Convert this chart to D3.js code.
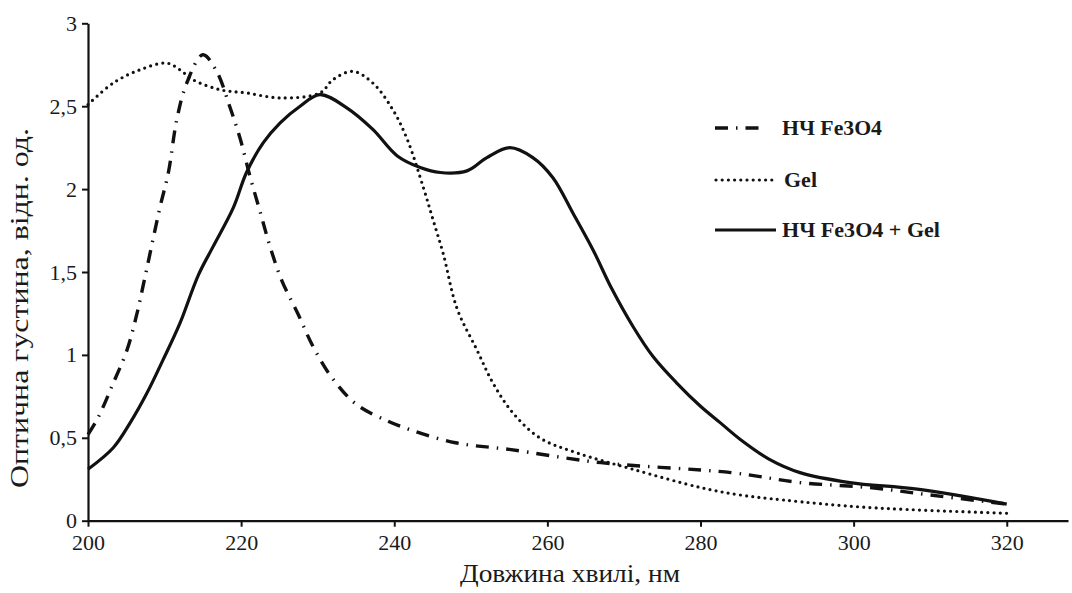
<!DOCTYPE html>
<html>
<head>
<meta charset="utf-8">
<script src="https://cdn.jsdelivr.net/npm/d3@7"></script>
<style>
  html, body { margin: 0; padding: 0; background: #fff; }
  svg { display: block; }
  text { font-family: "Liberation Serif", "Times New Roman", serif; fill: #1a1a1a; }
</style>
</head>
<body>
<svg id="chart" width="1072" height="593"></svg>
<script>
// Absorption spectra: wavelength (nm) and optical density (arb. units)
const fe3o4Wl  = [200, 201.3, 203.3, 205.1, 206.4, 207.4, 209.4, 210.5, 211.6, 212.9, 215, 216.8, 218.5, 219.9, 221.2, 222.5, 223.8, 225.3, 227.4, 229.4, 231.9, 235.1, 239.2, 242, 248, 255, 267, 284, 293, 302, 310, 320];
const fe3o4Od  = [0.52, 0.62, 0.83, 1.03, 1.25, 1.46, 1.89, 2.10, 2.42, 2.64, 2.81, 2.71, 2.50, 2.30, 2.07, 1.86, 1.65, 1.45, 1.25, 1.05, 0.86, 0.70, 0.60, 0.55, 0.47, 0.43, 0.35, 0.29, 0.23, 0.20, 0.155, 0.10];

const gelWl    = [200, 203.3, 206.8, 210.3, 212, 213.7, 217.2, 220.7, 225.1, 230.3, 232, 234.6, 237.2, 239.8, 241.7, 243.8, 245.1, 246.4, 248.2, 250.8, 252.9, 255.5, 259, 263.8, 271.2, 280, 285.2, 290.8, 301.8, 320];
const gelOd    = [2.51, 2.64, 2.72, 2.76, 2.72, 2.66, 2.60, 2.58, 2.55, 2.58, 2.66, 2.71, 2.64, 2.48, 2.30, 2.01, 1.81, 1.61, 1.28, 1.03, 0.83, 0.65, 0.50, 0.41, 0.31, 0.20, 0.155, 0.125, 0.08, 0.045];

const mixWl    = [200, 203.3, 205.5, 207.7, 209.8, 212, 214.4, 216.3, 219, 220.7, 222.9, 225.1, 227.7, 230.3, 233.8, 237.2, 240.4, 243.4, 246, 249.5, 252.1, 255.1, 258.1, 260.7, 263.4, 266, 268.4, 271.2, 273.8, 276.9, 280, 282.6, 285.2, 289, 293, 299.5, 308.3, 320];
const mixOd    = [0.31, 0.44, 0.59, 0.77, 0.97, 1.19, 1.48, 1.65, 1.89, 2.10, 2.28, 2.40, 2.50, 2.57, 2.49, 2.36, 2.20, 2.13, 2.10, 2.11, 2.19, 2.25, 2.19, 2.07, 1.85, 1.63, 1.40, 1.17, 0.99, 0.83, 0.69, 0.59, 0.49, 0.37, 0.29, 0.23, 0.19, 0.10];

const xTicks = [200, 220, 240, 260, 280, 300, 320];
const yTicks = [0, 0.5, 1, 1.5, 2, 2.5, 3];

const seriesNames = ["НЧ Fe3O4", "Gel", "НЧ Fe3O4 + Gel"];

const svg = d3.select("#chart");

const x = d3.scaleLinear().domain([200, 328]).range([88, 1068]);
const y = d3.scaleLinear().domain([0, 3]).range([520.7, 23.3]);

const fmt = v => String(v).replace(".", ",");

// Axes
const xAxis = svg.append("g")
  .attr("transform", `translate(0,${y(0)})`)
  .call(d3.axisBottom(x).tickValues(xTicks).tickSize(6).tickPadding(8).tickSizeOuter(0).tickFormat(d3.format("d")));
const yAxis = svg.append("g")
  .attr("transform", `translate(${x(200)},0)`)
  .call(d3.axisLeft(y).tickValues(yTicks).tickSize(6).tickPadding(5).tickSizeOuter(0).tickFormat(fmt));

[xAxis, yAxis].forEach(g => {
  g.select(".domain").attr("stroke", "#111").attr("stroke-width", 2.2);
  g.selectAll(".tick line").attr("stroke", "#111").attr("stroke-width", 2);
  g.selectAll(".tick text")
    .attr("fill", "#1a1a1a")
    .style("font-family", '"Liberation Serif", serif')
    .style("font-size", "22px");
});

// Axis titles
svg.append("text")
  .attr("x", 570).attr("y", 582)
  .attr("text-anchor", "middle")
  .attr("textLength", 220)
  .attr("lengthAdjust", "spacingAndGlyphs")
  .style("font-size", "25px")
  .text("Довжина хвилі, нм");

svg.append("text")
  .attr("transform", "translate(28,308) rotate(-90)")
  .attr("text-anchor", "middle")
  .attr("textLength", 360)
  .attr("lengthAdjust", "spacingAndGlyphs")
  .style("font-size", "25px")
  .text("Оптична густина, відн. од.");

// Spectra
const styles = [
  { dash: "13 8 1.5 8", width: 3.4, cap: "butt" },
  { dash: "0 6.2",      width: 3.2, cap: "round" },
  { dash: null,         width: 3.2, cap: "butt" }
];
const seriesData = [
  d3.zip(fe3o4Wl, fe3o4Od),
  d3.zip(gelWl, gelOd),
  d3.zip(mixWl, mixOd)
];

const line = d3.line()
  .x(d => x(d[0]))
  .y(d => y(d[1]))
  .curve(d3.curveCatmullRom.alpha(0.5));

seriesData.forEach((pts, i) => {
  svg.append("path")
    .datum(pts)
    .attr("fill", "none")
    .attr("stroke", "#111")
    .attr("stroke-width", styles[i].width)
    .attr("stroke-linecap", styles[i].cap)
    .attr("stroke-linejoin", "round")
    .attr("stroke-dasharray", styles[i].dash)
    .attr("d", line);
});

// Legend
const legendRows = [
  { y: 128, x1: 715, x2: 766, w: 100 },
  { y: 180, x1: 716, x2: 772, w: 33 },
  { y: 230, x1: 715, x2: 776, w: 158 }
];
legendRows.forEach((r, i) => {
  svg.append("line")
    .attr("x1", r.x1).attr("x2", r.x2)
    .attr("y1", r.y).attr("y2", r.y)
    .attr("stroke", "#111")
    .attr("stroke-width", styles[i].width)
    .attr("stroke-linecap", styles[i].cap)
    .attr("stroke-dasharray", styles[i].dash);
  svg.append("text")
    .attr("x", i === 1 ? 784 : 782)
    .attr("y", r.y + 7)
    .attr("textLength", r.w)
    .attr("lengthAdjust", "spacingAndGlyphs")
    .style("font-size", "20px")
    .style("font-weight", "bold")
    .text(seriesNames[i]);
});
</script>
</body>
</html>
